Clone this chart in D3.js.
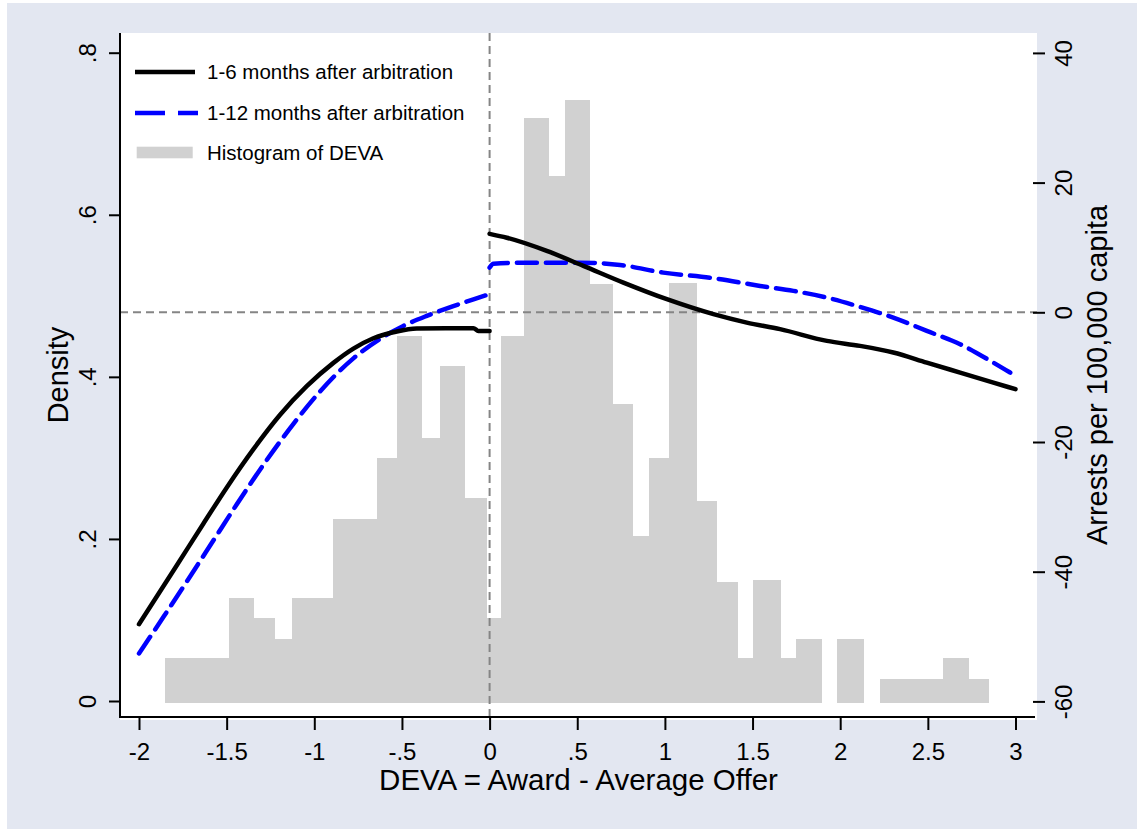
<!DOCTYPE html>
<html>
<head>
<meta charset="utf-8">
<script src="https://cdn.jsdelivr.net/npm/d3@7"></script>
<style>
  body { margin: 0; background: #fff; }
  svg text { font-family: "Liberation Sans", Arial, sans-serif; fill: #000; }
</style>
</head>
<body>
<svg id="chart" width="1137" height="829"></svg>
<script>
// histogram of DEVA (bin edges in DEVA units, height in density)
const histX0 = [-1.851, -1.484, -1.342, -1.224, -1.125, -0.891, -0.643, -0.529, -0.385, -0.282, -0.140, -0.014, 0.064, 0.197, 0.339, 0.431, 0.573, 0.703, 0.820, 0.910, 1.024, 1.182, 1.300, 1.416, 1.501, 1.661, 1.748, 1.981, 2.228, 2.589, 2.735];
const histX1 = [-1.484, -1.342, -1.224, -1.125, -0.891, -0.643, -0.529, -0.385, -0.282, -0.140, -0.014, 0.064, 0.197, 0.339, 0.431, 0.573, 0.703, 0.820, 0.910, 1.024, 1.182, 1.300, 1.416, 1.501, 1.661, 1.748, 1.895, 2.138, 2.589, 2.735, 2.849];
const histDensity = [0.053, 0.127, 0.102, 0.077, 0.127, 0.225, 0.300, 0.450, 0.325, 0.413, 0.250, 0.102, 0.450, 0.720, 0.648, 0.742, 0.514, 0.366, 0.203, 0.300, 0.516, 0.247, 0.147, 0.053, 0.149, 0.053, 0.077, 0.077, 0.027, 0.053, 0.027];

// 1-6 months after arbitration (arrests per 100,000), left and right of 0
const m6LeftX = [-2.0, -1.784, -1.633, -1.499, -1.347, -1.195, -1.043, -0.891, -0.777, -0.663, -0.529, -0.415, -0.25, -0.092, -0.064, 0.0];
const m6LeftY = [-48.1, -39.0, -32.6, -27.0, -21.1, -15.8, -11.4, -7.8, -5.6, -4.0, -2.95, -2.5, -2.45, -2.45, -2.87, -2.87];
const m6RightX = [0.0, 0.098, 0.326, 0.535, 0.763, 1.011, 1.277, 1.467, 1.657, 1.924, 2.113, 2.303, 2.494, 2.684, 2.874, 3.0];
const m6RightY = [12.1, 11.5, 9.47, 7.16, 4.58, 2.02, -0.29, -1.59, -2.6, -4.41, -5.18, -6.2, -7.76, -9.3, -10.84, -11.86];

// 1-12 months after arbitration
const m12LeftX = [-2.0, -1.861, -1.727, -1.576, -1.442, -1.290, -1.119, -0.967, -0.777, -0.625, -0.492, -0.358, -0.207, -0.092, 0.0];
const m12LeftY = [-52.6, -47.0, -41.5, -35.2, -29.6, -23.5, -17.2, -12.2, -7.1, -4.1, -2.1, -0.55, 0.95, 2.0, 2.8];
const m12RightX = [0.0, 0.022, 0.231, 0.516, 0.744, 0.991, 1.277, 1.543, 1.733, 1.924, 2.113, 2.303, 2.494, 2.684, 2.874, 2.97];
const m12RightY = [6.9, 7.5, 7.66, 7.66, 7.3, 6.12, 5.26, 4.07, 3.3, 2.27, 0.83, -0.82, -2.87, -4.92, -7.76, -9.3];

const xTicks = [-2, -1.5, -1, -0.5, 0, 0.5, 1, 1.5, 2, 2.5, 3];
const yLeftTicks = [0, 0.2, 0.4, 0.6, 0.8];
const yRightTicks = [-60, -40, -20, 0, 20, 40];

const legendLabels = ["1-6 months after arbitration", "1-12 months after arbitration", "Histogram of DEVA"];

// layout
const plot = { left: 120, right: 1037, top: 33, bottom: 720, axisY: 717 };
const svg = d3.select("#chart");

const x = d3.scaleLinear([-2, 3], [139, 1015.5]);
const yL = d3.scaleLinear([0, 0.8], [701, 52.7]);
const yR = d3.scaleLinear([-60, 40], [701.4, 52.9]);

const stataFmt = (d) => (d === 0 ? "0" : String(d).replace("0.", "."));

// backgrounds
svg.append("rect").attr("x", 7).attr("y", 3).attr("width", 1130).attr("height", 826).attr("fill", "#e3e7f1");
svg.append("rect")
  .attr("x", plot.left).attr("y", plot.top)
  .attr("width", plot.right - plot.left).attr("height", plot.bottom - plot.top)
  .attr("fill", "#fff");

// histogram
svg.append("g")
  .attr("shape-rendering", "crispEdges")
  .selectAll("rect")
  .data(histDensity.map((d, i) => ({ x0: histX0[i], x1: histX1[i], d })))
  .join("rect")
  .attr("x", (d) => Math.round(x(d.x0)))
  .attr("width", (d) => Math.round(x(d.x1)) - Math.round(x(d.x0)))
  .attr("y", (d) => yL(d.d))
  .attr("height", (d) => yL(0) - yL(d.d) + 2)
  .attr("fill", "#d1d1d1");

// reference lines
svg.append("line")
  .attr("x1", plot.left).attr("x2", plot.right)
  .attr("y1", yR(0)).attr("y2", yR(0))
  .attr("stroke", "#858585").attr("stroke-width", 2).attr("stroke-dasharray", "8,5");
svg.append("line")
  .attr("x1", x(0)).attr("x2", x(0))
  .attr("y1", plot.top).attr("y2", plot.axisY)
  .attr("stroke", "#858585").attr("stroke-width", 2).attr("stroke-dasharray", "8,5");

// curves
const line = d3.line().x((d) => x(d[0])).y((d) => yR(d[1])).curve(d3.curveMonotoneX);
const zip = (a, b) => a.map((v, i) => [v, b[i]]);

[[m12LeftX, m12LeftY], [m12RightX, m12RightY]].forEach(([xs, ys]) => {
  svg.append("path")
    .attr("d", line(zip(xs, ys)))
    .attr("fill", "none").attr("stroke", "#0000ff").attr("stroke-width", 4.5)
    .attr("stroke-dasharray", "20,9").attr("stroke-linecap", "round");
});
[[m6LeftX, m6LeftY], [m6RightX, m6RightY]].forEach(([xs, ys]) => {
  svg.append("path")
    .attr("d", line(zip(xs, ys)))
    .attr("fill", "none").attr("stroke", "#000").attr("stroke-width", 4.5)
    .attr("stroke-linecap", "round");
});

// axes
const gx = svg.append("g").attr("transform", `translate(0,${plot.axisY})`)
  .call(d3.axisBottom(x).tickValues(xTicks).tickFormat(stataFmt).tickSize(13).tickPadding(13));
gx.select(".domain").remove();
gx.selectAll(".tick line").attr("stroke", "#000").attr("stroke-width", 2);
gx.selectAll(".tick text").attr("font-size", 24).attr("font-family", null);

const gl = svg.append("g").attr("transform", `translate(${plot.left},0)`)
  .call(d3.axisLeft(yL).tickValues(yLeftTicks).tickFormat(stataFmt).tickSize(11));
gl.select(".domain").remove();
gl.selectAll(".tick line").attr("stroke", "#000").attr("stroke-width", 2);
gl.selectAll(".tick text")
  .attr("x", null).attr("dy", null).attr("font-size", 24).attr("font-family", null)
  .attr("text-anchor", "middle")
  .attr("transform", "translate(-32,0) rotate(-90)")
  .attr("dy", "0.35em");

const gr = svg.append("g").attr("transform", `translate(1033,0)`)
  .call(d3.axisRight(yR).tickValues(yRightTicks).tickFormat(stataFmt).tickSize(12));
gr.select(".domain").remove();
gr.selectAll(".tick line").attr("stroke", "#000").attr("stroke-width", 2);
gr.selectAll(".tick text")
  .attr("x", null).attr("dy", null).attr("font-size", 24).attr("font-family", null)
  .attr("text-anchor", "middle")
  .attr("transform", "translate(31,0) rotate(-90)")
  .attr("dy", "0.35em");

// axis lines
svg.append("line").attr("x1", plot.left).attr("x2", plot.left).attr("y1", plot.top).attr("y2", plot.axisY + 1)
  .attr("stroke", "#000").attr("stroke-width", 2);
svg.append("line").attr("x1", plot.left).attr("x2", plot.right - 2).attr("y1", plot.axisY).attr("y2", plot.axisY)
  .attr("stroke", "#000").attr("stroke-width", 2);

// axis titles
svg.append("text").attr("x", (plot.left + plot.right) / 2).attr("y", 790)
  .attr("text-anchor", "middle").attr("font-size", 29.5).text("DEVA = Award - Average Offer");
svg.append("text").attr("transform", `translate(58,${(plot.top + plot.axisY) / 2}) rotate(-90)`)
  .attr("text-anchor", "middle").attr("dy", "0.35em").attr("font-size", 29).text("Density");
svg.append("text").attr("transform", `translate(1097,${(plot.top + plot.axisY) / 2}) rotate(-90)`)
  .attr("text-anchor", "middle").attr("dy", "0.35em").attr("font-size", 29).text("Arrests per 100,000 capita");

// legend
const leg = svg.append("g").attr("transform", "translate(135,72)");
leg.append("line").attr("x1", 0).attr("x2", 60).attr("y1", 0).attr("y2", 0)
  .attr("stroke", "#000").attr("stroke-width", 4.5);
leg.append("line").attr("x1", 0).attr("x2", 63).attr("y1", 41).attr("y2", 41)
  .attr("stroke", "#0000ff").attr("stroke-width", 4.5).attr("stroke-dasharray", "30,13");
leg.append("rect").attr("x", 1.7).attr("y", 74.7).attr("width", 56).attr("height", 11.6).attr("fill", "#d1d1d1");
leg.selectAll("text.lab")
  .data(legendLabels)
  .join("text")
  .attr("class", "lab")
  .attr("x", 72)
  .attr("y", (d, i) => i * 40.5)
  .attr("dy", "0.35em")
  .attr("font-size", 20.5)
  .text((d) => d);
</script>
</body>
</html>
